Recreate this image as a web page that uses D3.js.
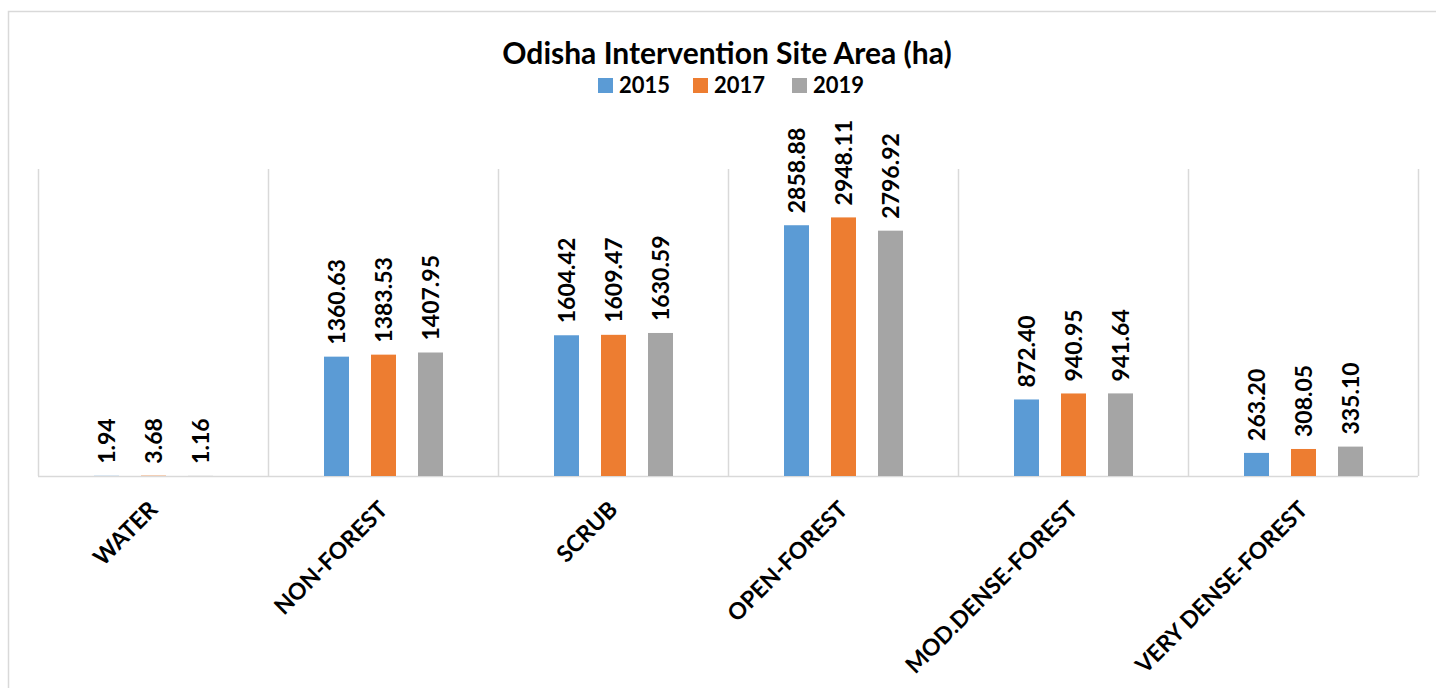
<!DOCTYPE html>
<html>
<head>
<meta charset="utf-8">
<script src="https://cdn.jsdelivr.net/npm/d3@7"></script>
<style>
  body { margin: 0; background: #fff; }
  text { font-family: Lato, "Open Sans", sans-serif; font-weight: bold; fill: #000; }
</style>
</head>
<body>
<div id="chart-area"></div>
<script>
let width = 1436,
    height = 688;

// data
let categories = ["WATER", "NON-FOREST", "SCRUB", "OPEN-FOREST", "MOD.DENSE-FOREST", "VERY DENSE-FOREST"];
let years = ["2015", "2017", "2019"];
let values2015 = [1.94, 1360.63, 1604.42, 2858.88, 872.40, 263.20];
let values2017 = [3.68, 1383.53, 1609.47, 2948.11, 940.95, 308.05];
let values2019 = [1.16, 1407.95, 1630.59, 2796.92, 941.64, 335.10];
let colors = ["#5b9bd5", "#ed7d31", "#a5a5a5"];

let series = [values2015, values2017, values2019];

let svg = d3.select("#chart-area").append("svg")
    .attr("width", width)
    .attr("height", height);

// outer chart border
svg.append("rect")
    .attr("x", 8.5).attr("y", 11.5)
    .attr("width", 1440).attr("height", 700)
    .attr("fill", "none")
    .attr("stroke", "#d9d9d9")
    .attr("stroke-width", 1.5);

let margin = {left: 38, right: 1418, top: 169, bottom: 476};

let x0 = d3.scaleBand()
    .domain(categories)
    .range([margin.left, margin.right]);

// bars inside each category band
let x1 = d3.scaleBand()
    .domain(years)
    .range([56, 175])
    .paddingInner(22 / 47);

let y = d3.scaleLinear()
    .domain([0, 3500])
    .range([margin.bottom, margin.top]);

// vertical separators
let seps = d3.range(categories.length + 1).map(function(i) {
  return i < categories.length ? x0(categories[i]) : margin.right;
});
svg.selectAll(".sep")
    .data(seps)
    .enter().append("line")
    .attr("class", "sep")
    .attr("x1", function(d) { return d + 0.5; })
    .attr("x2", function(d) { return d + 0.5; })
    .attr("y1", margin.top)
    .attr("y2", margin.bottom)
    .style("stroke", "#d9d9d9")
    .style("stroke-width", 1.5);

// baseline
svg.append("line")
    .attr("x1", margin.left).attr("x2", margin.right)
    .attr("y1", margin.bottom + 0.5).attr("y2", margin.bottom + 0.5)
    .style("stroke", "#d9d9d9")
    .style("stroke-width", 1.5);

// bars
let groups = svg.selectAll(".cat")
    .data(categories)
    .enter().append("g")
    .attr("class", "cat")
    .attr("transform", function(d) { return "translate(" + x0(d) + ",0)"; });

groups.each(function(cat, ci) {
  let g = d3.select(this);
  let rows = years.map(function(yr, si) { return {year: yr, value: series[si][ci], color: colors[si]}; });

  g.selectAll("rect")
    .data(rows)
    .enter().append("rect")
    .attr("x", function(d) { return x1(d.year); })
    .attr("width", x1.bandwidth())
    .attr("y", function(d) { return y(d.value); })
    .attr("height", function(d) { return margin.bottom - y(d.value); })
    .attr("fill", function(d) { return d.color; });

  g.selectAll(".val")
    .data(rows)
    .enter().append("text")
    .attr("class", "val")
    .attr("transform", function(d) {
      return "translate(" + (x1(d.year) + x1.bandwidth() / 2 + 8) + "," + (y(d.value) - 12) + ") rotate(-90)";
    })
    .style("font-size", "23px")
    .text(function(d) { return d.value.toFixed(2); });
});

// category labels
svg.selectAll(".catlabel")
    .data(categories)
    .enter().append("text")
    .attr("class", "catlabel")
    .attr("text-anchor", "end")
    .attr("transform", function(d) {
      return "translate(" + (x0(d) + x0.bandwidth() / 2 + 6) + "," + (margin.bottom + 35) + ") rotate(-45)";
    })
    .style("font-size", "23px")
    .text(function(d) { return d; });

// title
svg.append("text")
    .attr("x", 727)
    .attr("y", 64)
    .attr("text-anchor", "middle")
    .style("font-size", "30px")
    .text("Odisha Intervention Site Area (ha)");

// legend
let legendX = [598, 693, 792];
let legend = svg.selectAll(".legend")
    .data(years)
    .enter().append("g")
    .attr("class", "legend")
    .attr("transform", function(d, i) { return "translate(" + legendX[i] + ",78)"; });

legend.append("rect")
    .attr("width", 15).attr("height", 15)
    .attr("fill", function(d, i) { return colors[i]; });

legend.append("text")
    .attr("x", 21)
    .attr("y", 15)
    .style("font-size", "22px")
    .text(function(d) { return d; });
</script>
</body>
</html>
